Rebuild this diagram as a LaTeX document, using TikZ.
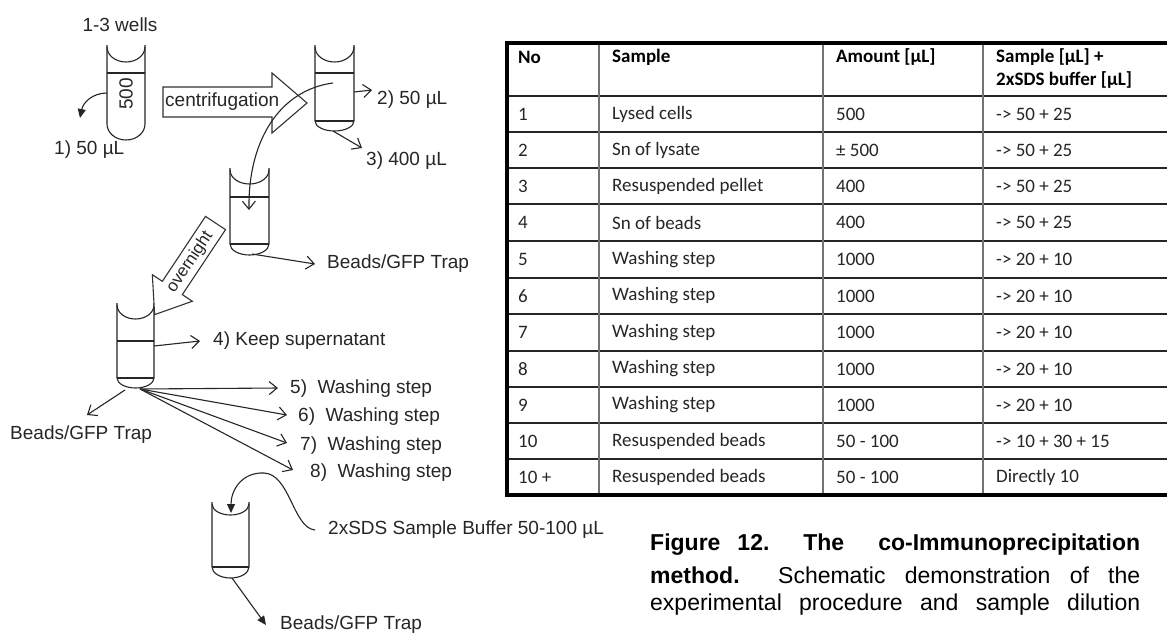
\documentclass[tikz,border=0pt]{standalone}
\usepackage{fontspec}
\setmainfont{Liberation Sans}
\newfontfamily\calib{Carlito}
\usetikzlibrary{arrows.meta}
\newcommand\drawtube[6]{%
  \pgfmathsetmacro\tubehw{(#2-#1)/2}%
  \draw[ln] (#1,-#3) -- (#1,-#5) arc[start angle=180,end angle=360,x radius=\tubehw,y radius=#6] -- (#2,-#3);%
  \draw[ln] (#1,-#3-2) arc[start angle=180,end angle=360,x radius=\tubehw,y radius=#4];%
}
\begin{document}
\begin{tikzpicture}[x=1pt,y=1pt,
  ln/.style={line width=1.1pt, black!85},
  oarr/.style={ln, -{Straight Barb[length=8pt,width=13pt]}},
  farr/.style={ln, -{Triangle[length=9pt,width=8pt]}},
  lbl/.style={font=\fontsize{19}{22}\selectfont, inner sep=0pt, anchor=west, text=black!85},
  cell/.style={font=\calib\fontsize{19}{23}\selectfont, inner sep=0pt, anchor=west, text=black!85},
  hcell/.style={font=\calib\bfseries\fontsize{19}{23}\selectfont, inner sep=0pt, anchor=west},
  captxt/.style={font=\fontsize{23}{28}\selectfont, inner sep=0pt, anchor=west},
  blk/.style={line width=1.1pt, draw=black!80, fill=white},
  tline/.style={line width=1.3pt, black!85},
  vline/.style={line width=1.6pt, black!55},
  fat/.style={line width=3.2pt, black}]
\useasboundingbox[fill=white] (0,0) rectangle (1167,-633);

% ---------- tubes ----------
\drawtube{107}{145}{45}{15}{124}{16}
\draw[ln] (107,-73) -- (145,-73);
\drawtube{315}{354}{45}{15}{121}{10}
\draw[ln] (315,-73) -- (354,-73);
\draw[ln] (315,-121) -- (354,-121);
\drawtube{230}{269}{168}{14}{244}{11}
\draw[ln] (230,-197) -- (269,-197);
\draw[ln] (230,-244) -- (269,-244);
\drawtube{117}{154}{303}{14}{378}{10}
\draw[ln] (117,-341) -- (154,-341);
\draw[ln] (117,-378) -- (154,-378);
\drawtube{212}{249}{502}{11}{567}{11}
\draw[ln] (212,-567) -- (249,-567);

% ---------- block arrows ----------
\draw[blk] (163,-87) -- (272,-87) -- (272,-73) -- (307,-103) -- (272,-133) -- (272,-117) -- (163,-117) -- cycle;
\node[lbl] (centri) at (165,-102) {centrifugation};
\begin{scope}[shift={(215.5,-223)}, rotate=-123.6]
\draw[blk] (0,12) -- (78,12) -- (78,24) -- (110,0) -- (78,-24) -- (78,-12) -- (0,-12) -- cycle;
\end{scope}
\node[lbl, anchor=center, rotate=56.4, font=\fontsize{17}{20}\selectfont] (overn) at (190,-262) {overnight};

% ---------- labels ----------
\node[lbl, anchor=center] (wells) at (120,-25) {1-3 wells};
\node[lbl, anchor=center, rotate=90] (v500) at (126,-94) {500};
\node[lbl] (l1) at (54,-150) {1) 50 µL};
\node[lbl] (l2) at (377,-100) {2) 50 µL};
\node[lbl] (l3) at (366,-161) {3) 400 µL};
\node[lbl] (bg1) at (327,-264) {Beads/GFP Trap};
\node[lbl] (l4) at (213,-341) {4) Keep supernatant};
\node[lbl] (l5) at (290,-389) {5)\ \ Washing step};
\node[lbl] (l6) at (298,-417) {6)\ \ Washing step};
\node[lbl] (l7) at (300,-446) {7)\ \ Washing step};
\node[lbl] (l8) at (310,-473) {8)\ \ Washing step};
\node[lbl] (bg2) at (10,-435) {Beads/GFP Trap};
\node[lbl] (sds) at (328,-530) {2xSDS Sample Buffer 50-100 µL};
\node[lbl] (bg3) at (280,-625) {Beads/GFP Trap};

% ---------- connector end points ----------
\coordinate (t1L) at (107,-93);   \coordinate (p1) at (80,-118);
\coordinate (t2in) at (333,-83);  \coordinate (t3in) at (249,-210);
\coordinate (t2R) at (354,-92);   \coordinate (p2) at (372,-90);
\coordinate (t2B) at (333,-131);  \coordinate (p3) at (362,-148);
\coordinate (t3B) at (252,-254);  \coordinate (pb1) at (315,-264);
\coordinate (t4R) at (154,-346);  \coordinate (p4) at (200,-341);
\coordinate (t4B) at (140,-389);
\coordinate (p5) at (278,-388);   \coordinate (p6) at (287,-415);
\coordinate (p7) at (287,-443);   \coordinate (p8) at (293,-470);
\coordinate (t4BL) at (125,-390); \coordinate (pb2) at (87,-415);
\coordinate (sdsS) at (315,-530); \coordinate (t5in) at (231,-513);
\coordinate (t5B) at (232,-578);  \coordinate (pb3) at (266,-625);

% ---------- connectors ----------
\draw[farr] (t1L) .. controls (92,-93) and (83,-103) .. (p1);
\draw[oarr] (t2in) .. controls (280,-90) and (248,-140) .. (t3in);
\draw[oarr] (t2R) -- (p2);
\draw[oarr] (t2B) -- (p3);
\draw[oarr] (t3B) -- (pb1);
\draw[oarr] (t4R) -- (p4);
\draw[oarr] (t4B) -- (p5);
\draw[oarr] (t4B) -- (p6);
\draw[oarr] (t4B) -- (p7);
\draw[oarr] (t4B) -- (p8);
\draw[oarr] (t4BL) -- (pb2);
\draw[farr] (sdsS) .. controls (293,-528) and (290,-474) .. (264,-473) .. controls (242,-472) and (231,-490) .. (t5in);
\draw[farr] (t5B) -- (pb3);

% ---------- table ----------
\foreach \yy in {96,132,168,204,241,278,314,351,387,423,459}
  \draw[tline] (506,-\yy) -- (1167,-\yy);
\foreach \xx in {599,823,983}
  \draw[vline] (\xx,-43) -- (\xx,-495);
\draw[fat] (506,-43) -- (1167,-43);
\draw[fat] (507,-41.4) -- (507,-496.6);
\draw[line width=3.6pt] (505.2,-495) -- (1167,-495);

\node[hcell] (hNo) at (518,-57) {No};
\node[hcell] (hS) at (612,-57) {Sample};
\node[hcell] (hA) at (836,-57) {Amount [µL]};
\node[hcell, align=left] (hB) at (996,-68.5) {Sample [µL] +\\2xSDS buffer [µL]};

\foreach \ry/\rn/\rs/\ra/\rd [count=\k] in {
  114/1/Lysed cells/500/{-> 50 + 25},
  150/2/Sn of lysate/{±\ 500}/{-> 50 + 25},
  186/3/Resuspended pellet/400/{-> 50 + 25},
  222.5/4/Sn of beads/400/{-> 50 + 25},
  259.5/5/Washing step/1000/{-> 20 + 10},
  296/6/Washing step/1000/{-> 20 + 10},
  332.5/7/Washing step/1000/{-> 20 + 10},
  369/8/Washing step/1000/{-> 20 + 10},
  405/9/Washing step/1000/{-> 20 + 10},
  441/10/Resuspended beads/{50 - 100}/{-> 10 + 30 + 15},
  477/{10 +}/Resuspended beads/{50 - 100}/{Directly 10}}{
  \node[cell] (n\k) at (518,-\ry) {\rn};
  \node[cell] (s\k) at (612,-\ry) {\rs};
  \node[cell] (a\k) at (836,-\ry) {\ra};
  \node[cell] (d\k) at (996,-\ry) {\rd};
}

% ---------- caption ----------
\node[captxt] (cap1) at (650,-545) {\makebox[490pt][s]{\bfseries Figure 12.\ \ The\ \ co-Immunoprecipitation}};
\node[captxt] (cap2) at (650,-575) {\makebox[490pt][s]{\textbf{method.}\ \ Schematic demonstration of the}};
\node[captxt] (cap3) at (650,-605) {\makebox[490pt][s]{experimental procedure and sample dilution}};
\end{tikzpicture}
\end{document}
